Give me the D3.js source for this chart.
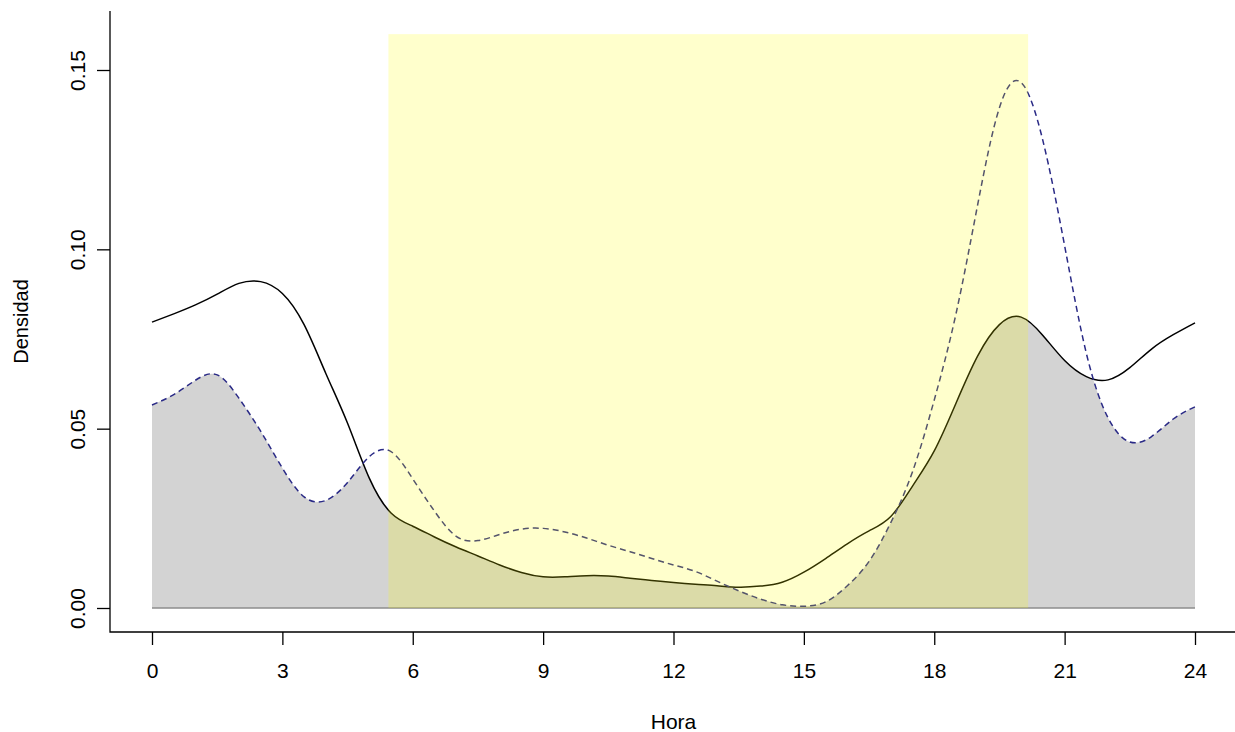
<!DOCTYPE html>
<html>
<head>
<meta charset="utf-8">
<script src="https://cdn.jsdelivr.net/npm/d3@7"></script>
<style>
  body { margin: 0; background: #fff; }
  svg text { font-family: "Liberation Sans", Arial, sans-serif; fill: #000; }
</style>
</head>
<body>
<div id="chart"></div>
<script>
// hours of the day (0.5 h steps)
var hours = d3.range(0, 24.01, 0.5);

// density, solid black curve
var densSolid = [
  0.0797, 0.0820, 0.0845, 0.0875, 0.0905, 0.0910, 0.0877, 0.0790, 0.0654, 0.0515,
  0.0362, 0.0265, 0.0228, 0.0198, 0.0170, 0.0145, 0.0120, 0.0099, 0.0087, 0.0087,
  0.0090, 0.0089, 0.0083, 0.0077, 0.0071, 0.0066, 0.0062, 0.0058, 0.0061, 0.0072,
  0.0100, 0.0138, 0.0179, 0.0215, 0.0255, 0.0340, 0.0438, 0.0571, 0.0703, 0.0790,
  0.0811, 0.0760, 0.0690, 0.0645, 0.0636, 0.0670, 0.0722, 0.0762, 0.0795
];

// density, dashed blue curve
var densDashed = [
  0.0566, 0.0595, 0.0635, 0.0650, 0.0585, 0.0493, 0.0390, 0.0310, 0.0300, 0.0350,
  0.0422, 0.0436, 0.0360, 0.0270, 0.0200, 0.0188, 0.0205, 0.0220, 0.0222, 0.0212,
  0.0195, 0.0175, 0.0157, 0.0138, 0.0120, 0.0102, 0.0075, 0.0048, 0.0025, 0.0009,
  0.0005, 0.0017, 0.0062, 0.0130, 0.0238, 0.0380, 0.0580, 0.0820, 0.1125, 0.1395,
  0.1465, 0.1303, 0.1010, 0.0710, 0.0530, 0.0463, 0.0478, 0.0527, 0.0561
];

// daylight band (sunrise, sunset) and its top
var daylight = [5.44, 20.16];
var daylightTop = 0.16;

var xTicks = [0, 3, 6, 9, 12, 15, 18, 21, 24];
var yTicks = [0, 0.05, 0.10, 0.15];
var yTickLabels = ["0.00", "0.05", "0.10", "0.15"];

var width = 1235, height = 732;

var svg = d3.select("#chart").append("svg")
  .attr("width", width)
  .attr("height", height);

// plot region in R style (4% extension on each side)
var x = d3.scaleLinear().domain([0, 24]).range([152, 1195]);
var y = d3.scaleLinear().domain([0, 0.15]).range([608, 70]);
var box = { left: 110, right: 1237, top: 11, bottom: 632 };

var solidPts = hours.map(function (h, i) { return [h, densSolid[i]]; });
var dashedPts = hours.map(function (h, i) { return [h, densDashed[i]]; });

var curve = d3.curveNatural;

var area = d3.area()
  .x(function (d) { return x(d[0]); })
  .y0(y(0))
  .y1(function (d) { return y(d[1]); })
  .curve(curve);

var line = d3.line()
  .x(function (d) { return x(d[0]); })
  .y(function (d) { return y(d[1]); })
  .curve(curve);

// overlap = area under both curves
svg.append("clipPath")
  .attr("id", "clip-dashed")
  .append("path")
  .attr("d", area(dashedPts));

svg.append("clipPath")
  .attr("id", "clip-plot")
  .append("rect")
  .attr("x", x(0)).attr("y", 0)
  .attr("width", x(24) - x(0)).attr("height", y(0));

svg.append("g")
  .attr("clip-path", "url(#clip-plot)")
  .append("path")
  .attr("d", area(solidPts))
  .attr("clip-path", "url(#clip-dashed)")
  .attr("fill", "#d3d3d3");

// baseline
svg.append("line")
  .attr("x1", x(0)).attr("x2", x(24))
  .attr("y1", y(0)).attr("y2", y(0))
  .attr("stroke", "#8c8c8c")
  .attr("stroke-width", 1.5);

svg.append("path")
  .attr("d", line(solidPts))
  .attr("fill", "none")
  .attr("stroke", "#000")
  .attr("stroke-width", 1.5);

svg.append("path")
  .attr("d", line(dashedPts))
  .attr("fill", "none")
  .attr("stroke", "#2a2a86")
  .attr("stroke-width", 1.5)
  .attr("stroke-dasharray", "6,4");

// daylight band
svg.append("rect")
  .attr("x", x(daylight[0]))
  .attr("width", x(daylight[1]) - x(daylight[0]))
  .attr("y", y(daylightTop))
  .attr("height", y(0) - y(daylightTop))
  .attr("fill", "rgb(255,255,0)")
  .attr("fill-opacity", 0.2);

// L-shaped box
svg.append("path")
  .attr("d", "M" + box.left + "," + box.top + "V" + box.bottom + "H" + box.right)
  .attr("fill", "none")
  .attr("stroke", "#000")
  .attr("stroke-width", 1.3);

// x axis
var xAxis = svg.append("g")
  .attr("transform", "translate(0," + box.bottom + ")")
  .call(d3.axisBottom(x).tickValues(xTicks).tickSize(13).tickPadding(18).tickFormat(d3.format("d")));
xAxis.select(".domain").remove();
xAxis.selectAll("line").attr("stroke", "#000").attr("stroke-width", 1.3);
xAxis.selectAll("text").attr("font-size", 21).style("font-family", "Liberation Sans, Arial, sans-serif");

// y axis, labels rotated as in R
var yAxis = svg.append("g")
  .attr("transform", "translate(" + box.left + ",0)")
  .call(d3.axisLeft(y).tickValues(yTicks).tickSize(13)
    .tickFormat(function (d, i) { return yTickLabels[i]; }));
yAxis.select(".domain").remove();
yAxis.selectAll("line").attr("stroke", "#000").attr("stroke-width", 1.3);
yAxis.selectAll("text")
  .attr("x", null).attr("dy", null)
  .attr("font-size", 21)
  .style("font-family", "Liberation Sans, Arial, sans-serif")
  .attr("text-anchor", "middle")
  .attr("transform", "translate(-25,0) rotate(-90)");

// axis titles
svg.append("text")
  .attr("x", (box.left + box.right) / 2)
  .attr("y", 729)
  .attr("text-anchor", "middle")
  .attr("font-size", 21)
  .text("Hora");

svg.append("text")
  .attr("transform", "translate(28," + (box.top + box.bottom) / 2 + ") rotate(-90)")
  .attr("text-anchor", "middle")
  .attr("font-size", 20)
  .text("Densidad");
</script>
</body>
</html>
